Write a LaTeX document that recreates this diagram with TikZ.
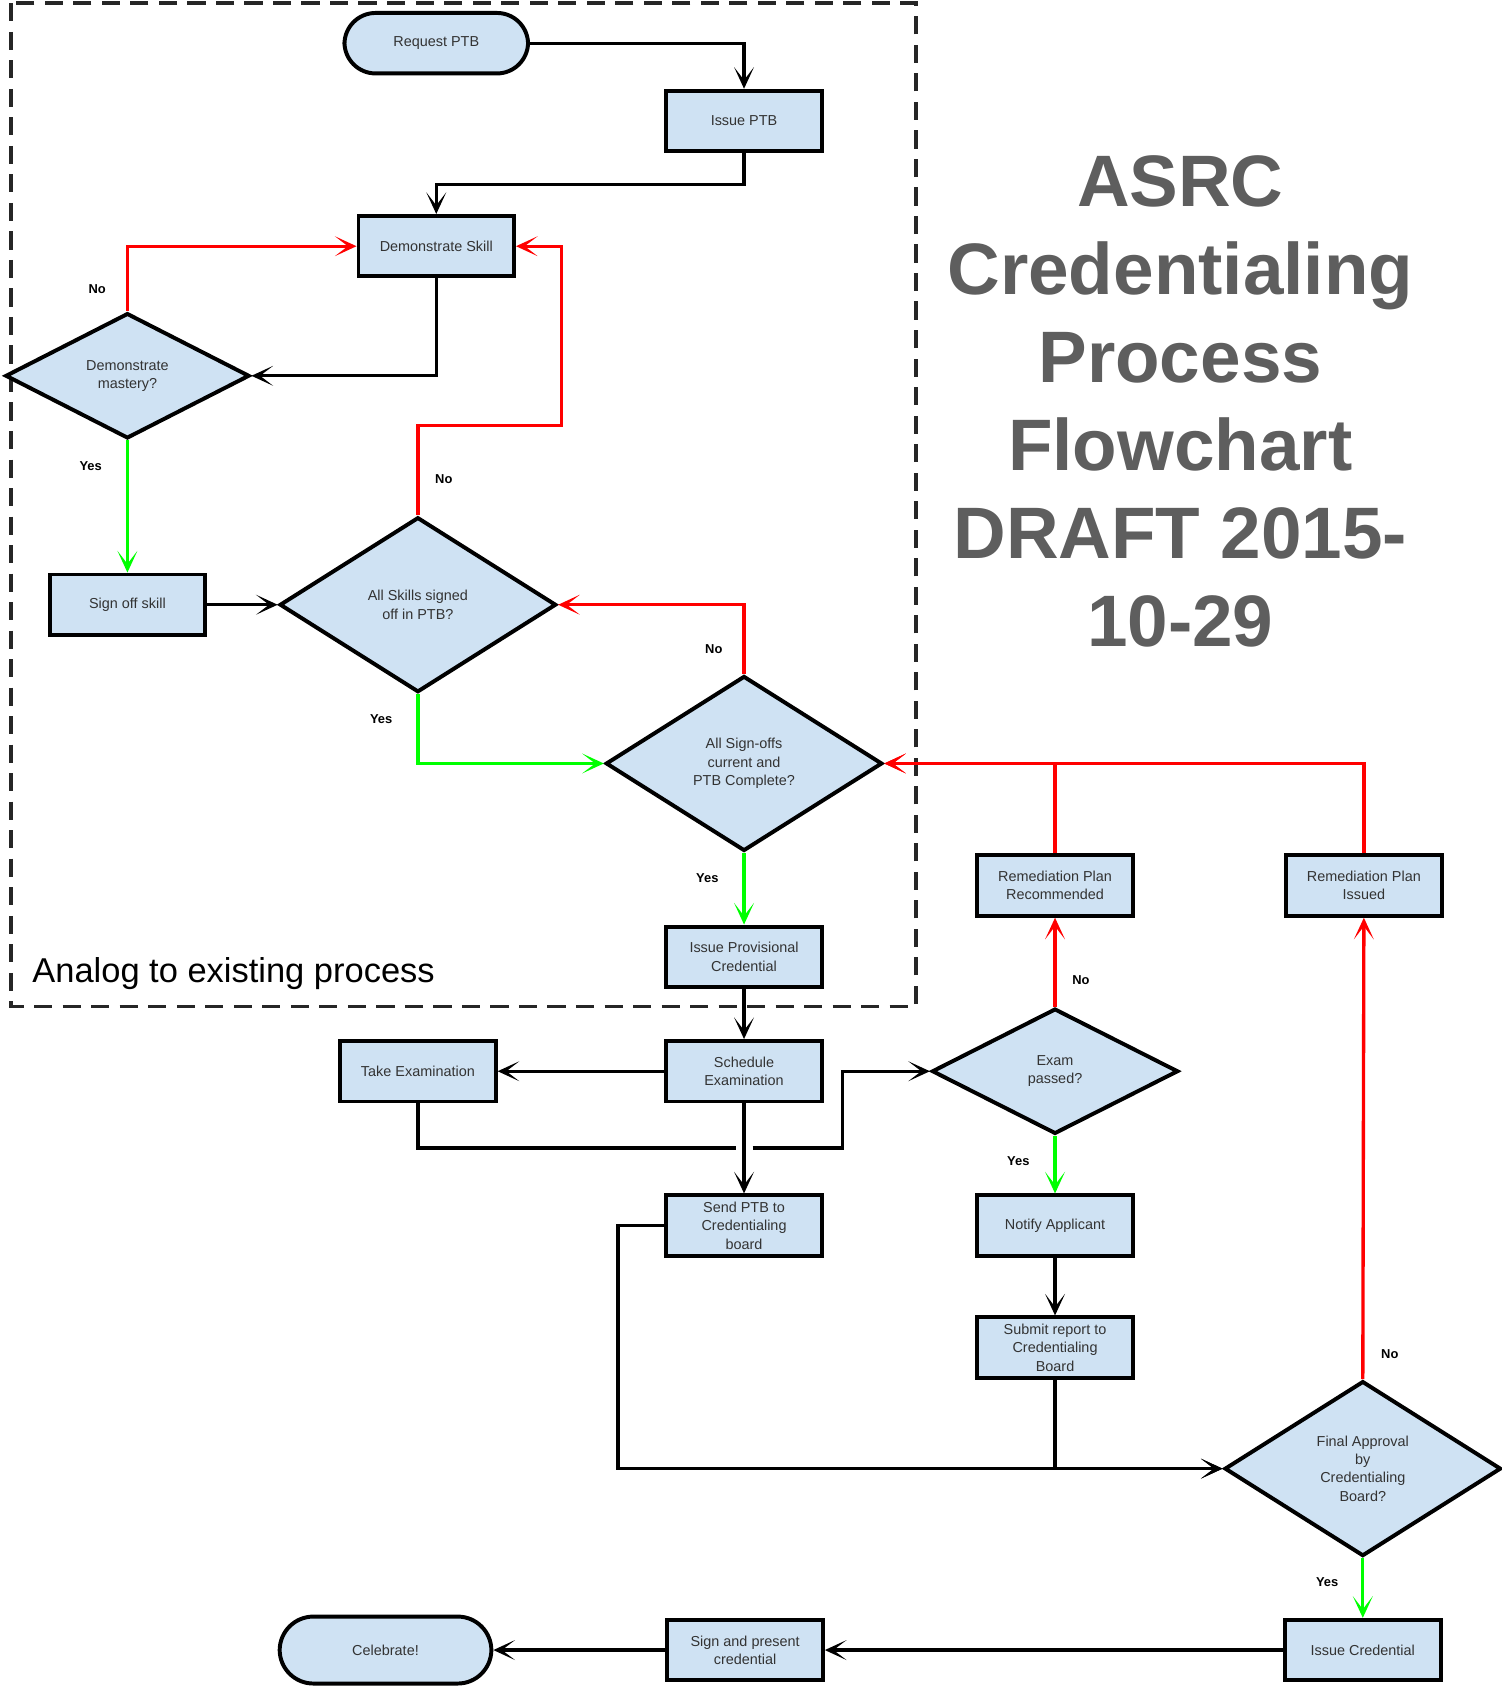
\documentclass[tikz,border=0pt]{standalone}
\usepackage{fontspec}
\setmainfont{Liberation Sans}
\usetikzlibrary{shapes, arrows.meta}

\definecolor{boxfill}{HTML}{CFE2F3}
\definecolor{boxtext}{HTML}{333333}
\definecolor{titlegray}{HTML}{5E5E5E}
\definecolor{yesgreen}{HTML}{00FF00}
\definecolor{nored}{HTML}{FF0000}

\begin{document}
\begin{tikzpicture}[x=0.025cm, y=-0.025cm,
		flow/.style={-{Stealth[length=5mm, width=4.6mm, inset=3mm]}, line width=2.2pt},
		yesline/.style={flow, draw=yesgreen},
		noline/.style={flow, draw=nored},
		process/.style={draw, fill=boxfill, line width=2.6pt, minimum width=3.6cm, minimum height=1.4cm, inner sep=0pt, align=center, text=boxtext, font=\fontsize{9.5}{12}\selectfont},
		terminal/.style={process, rounded corners=0.72cm},
		decision/.style={process, shape=diamond},
		answer/.style={font=\bfseries\fontsize{8.5}{10}\selectfont}]
		\useasboundingbox (0,0) rectangle (1390,1565);
		\draw[line width=2.5pt, draw=black!85, dash pattern=on 0.42cm off 0.24cm] (10,3) rectangle (848,932);
		\node (analog) [anchor=base west, font=\fontsize{22.7}{26}\selectfont] at (25,910) {Analog to existing process};
		\node (title) [align=center, text=titlegray, font=\bfseries\fontsize{48}{58}\selectfont] at (1093,372) {ASRC\\Credentialing\\Process\\Flowchart\\DRAFT 2015-\\10-29};

		\node (request)     [terminal, minimum width=4.25cm]           at (404,40)   {Request PTB};
		\node (issueptb)    [process]                                  at (689,112)  {Issue PTB};
		\node (demo)        [process]                                  at (404,228)  {Demonstrate Skill};
		\node (mastery)     [decision, minimum width=5.65cm, minimum height=2.9cm, shape aspect=1.94] at (118,348) {Demonstrate\\mastery?};
		\node (signoff)     [process]                                  at (118,560)  {Sign off skill};
		\node (allskills)   [decision, minimum width=6.4cm, minimum height=4.05cm, shape aspect=1.58] at (387,560) {All Skills signed\\off in PTB?};
		\node (signoffs)    [decision, minimum width=6.4cm, minimum height=4.05cm, shape aspect=1.58] at (689,707) {All Sign-offs\\current and\\PTB Complete?};
		\node (provisional) [process]                                  at (689,886)  {Issue Provisional\\Credential};
		\node (schedule)    [process]                                  at (689,992)  {Schedule\\Examination};
		\node (takeexam)    [process]                                  at (387,992)  {Take Examination};
		\node (exampassed)  [decision, minimum width=5.7cm, minimum height=2.9cm, shape aspect=1.96] at (977,992) {Exam\\passed?};
		\node (remrec)      [process]                                  at (977,820)  {Remediation Plan\\Recommended};
		\node (remissued)   [process]                                  at (1263,820) {Remediation Plan\\Issued};
		\node (sendptb)     [process]                                  at (689,1135) {Send PTB to\\Credentialing\\board};
		\node (notify)      [process]                                  at (977,1135) {Notify Applicant};
		\node (submit)      [process]                                  at (977,1248) {Submit report to\\Credentialing\\Board};
		\node (final)       [decision, minimum width=6.4cm, minimum height=4.05cm, shape aspect=1.58] at (1262,1360) {Final Approval\\by\\Credentialing\\Board?};
		\node (issuecred)   [process]                                  at (1262,1528) {Issue Credential};
		\node (signpresent) [process]                                  at (690,1528) {Sign and present\\credential};
		\node (celebrate)   [terminal, minimum width=4.9cm, minimum height=1.55cm, rounded corners=0.78cm] at (357,1528) {Celebrate!};

		\coordinate (hopl) at (682,1063);
		\coordinate (hopr) at (697,1063);

		\draw[flow]    (request.east) -| (issueptb.north);
		\draw[flow]    (issueptb.south) -- ++(0,29) -| (demo.north);
		\draw[flow]    (demo.south) |- (mastery.east);
		\draw[noline]  (mastery.north) |- (demo.west);
		\draw[yesline] (mastery.south) -- (signoff.north);
		\draw[flow]    (signoff) -- (allskills);
		\draw[noline]  (allskills.north) -- ++(0,-83) -- ++(133,0) |- (demo.east);
		\draw[yesline] (allskills.south) |- (signoffs.west);
		\draw[noline]  (signoffs.north) |- (allskills.east);
		\draw[yesline] (signoffs.south) -- (provisional.north);
		\draw[flow]    (provisional) -- (schedule);
		\draw[flow]    (schedule) -- (takeexam);
		\draw[flow, -] (takeexam.south) |- (hopl);
		\draw[flow]    (hopr) -- ++(83,0) |- (exampassed.west);
		\draw[flow]    (schedule) -- (sendptb);
		\draw[noline]  (exampassed.north) -- (remrec.south);
		\draw[yesline] (exampassed.south) -- (notify.north);
		\draw[flow]    (notify) -- (submit);
		\draw[flow]    (sendptb.west) -- ++(-43,0) |- (final.west);
		\draw[flow]    (submit.south) |- (final.west);
		\draw[noline]  (final.north) -- (remissued.south);
		\draw[yesline] (final.south) -- (issuecred.north);
		\draw[flow]    (issuecred) -- (signpresent);
		\draw[flow]    (signpresent) -- (celebrate);
		\draw[noline]  (remrec.north) |- (signoffs.east);
		\draw[noline]  (remissued.north) |- (signoffs.east);

		\node (no1)  [answer] at (90,268)   {No};
		\node (yes1) [answer] at (84,432)   {Yes};
		\node (no2)  [answer] at (411,444)  {No};
		\node (yes2) [answer] at (353,666)  {Yes};
		\node (no3)  [answer] at (661,601)  {No};
		\node (yes3) [answer] at (655,813)  {Yes};
		\node (no4)  [answer] at (1001,908) {No};
		\node (yes4) [answer] at (943,1075) {Yes};
		\node (no5)  [answer] at (1287,1254) {No};
		\node (yes5) [answer] at (1229,1465) {Yes};
\end{tikzpicture}
\end{document}
